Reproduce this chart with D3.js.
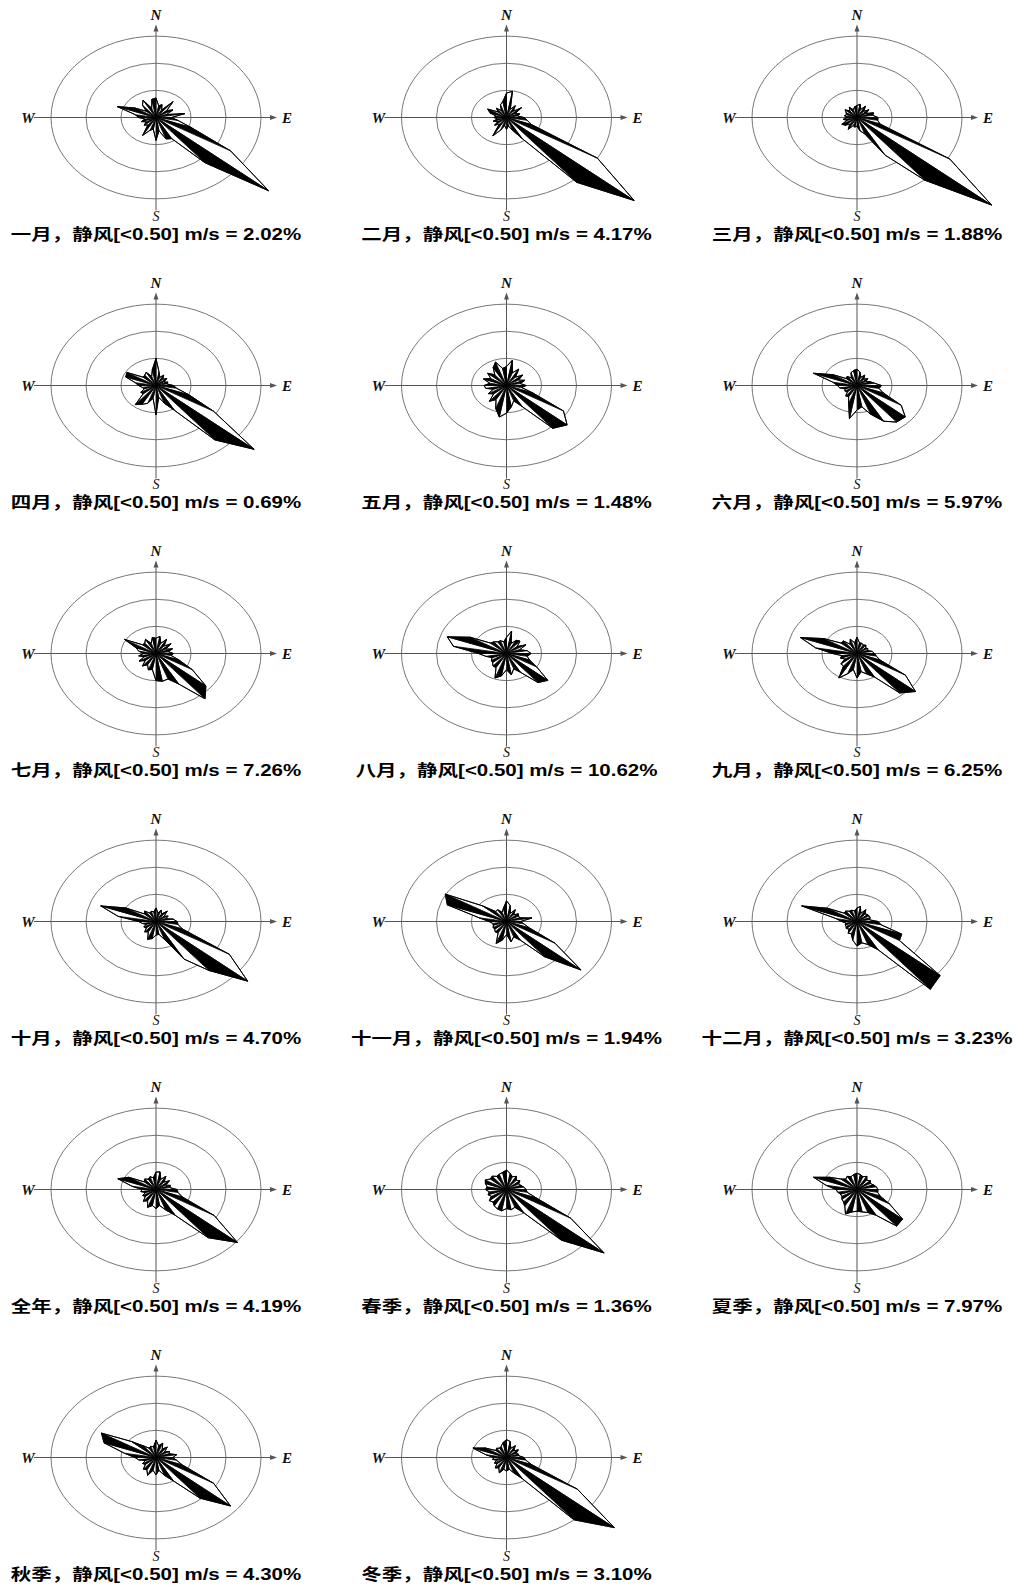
<!DOCTYPE html>
<html lang="zh">
<head>
<meta charset="UTF-8">
<title>风玫瑰图</title>
<style>
  body { margin: 0; background: #fff; }
  .ring { fill: none; stroke: #777; stroke-width: 1px; }
  .axis line { stroke: #555; stroke-width: 1px; }
  .axis path { fill: #555; stroke: none; }
  .dir { font-family: "Liberation Serif", serif; font-style: italic; font-weight: bold; font-size: 15px; fill: #111; }
  .cap { font-family: "Liberation Sans", "Noto Sans CJK SC", sans-serif; font-weight: bold; font-size: 20.5px; fill: #000; }
  .petal { stroke: #000; stroke-width: 0.8px; }
  .outline { fill: none; stroke: #000; stroke-width: 1px; }
</style>
</head>
<body>
<script src="https://cdn.jsdelivr.net/npm/d3@7"></script>
<script>
var width = 1016, height = 1585;

// 36 wind directions, degrees clockwise from north
var bearings = [0, 10, 20, 30, 40, 50, 60, 70, 80, 90, 100, 110, 120, 130, 140, 150, 160, 170,
                180, 190, 200, 210, 220, 230, 240, 250, 260, 270, 280, 290, 300, 310, 320, 330, 340, 350];

var titles = ["一月", "二月", "三月", "四月", "五月", "六月", "七月", "八月", "九月",
              "十月", "十一月", "十二月", "全年", "春季", "夏季", "秋季", "冬季"];
var calms = [2.02, 4.17, 1.88, 0.69, 1.48, 5.97, 7.26, 10.62, 6.25, 4.70, 1.94, 3.23, 4.19, 1.36, 7.97, 4.30, 3.10];

// frequency (%) per direction
var jan = [3.6, 2.2, 2.5, 1.6, 3.8, 2.0, 2.8, 1.6, 4.2, 2.2, 3.2, 5.3, 12.3, 21.0, 10.9, 4.5, 4.2, 2.5,
           4.2, 2.2, 2.5, 3.8, 1.8, 2.2, 1.6, 2.2, 1.6, 2.5, 3.0, 5.9, 3.5, 1.8, 3.0, 3.7, 1.8, 3.4];
var feb = [4.5, 4.9, 1.6, 2.5, 1.5, 2.8, 1.4, 2.0, 1.6, 2.5, 3.0, 3.8, 15.0, 23.8, 15.6, 4.5, 2.5, 1.6,
           2.2, 1.5, 2.5, 3.9, 1.6, 2.2, 1.4, 2.0, 1.3, 1.8, 1.5, 2.5, 3.1, 1.6, 2.2, 1.5, 2.5, 3.0];
var mar = [2.2, 2.5, 1.6, 2.4, 1.5, 2.2, 1.5, 2.5, 2.3, 3.0, 3.0, 3.5, 15.3, 25.1, 15.1, 8.0, 3.2, 2.5,
           1.6, 1.8, 1.6, 2.5, 1.6, 2.2, 2.5, 1.5, 2.0, 1.4, 1.8, 1.6, 1.8, 2.2, 1.6, 2.2, 1.5, 2.0];
var apr = [5.0, 2.5, 1.6, 2.2, 1.5, 2.0, 1.3, 1.8, 1.6, 2.5, 3.0, 5.0, 9.5, 18.3, 13.1, 5.3, 3.5, 2.2,
           5.4, 2.4, 3.5, 4.0, 4.6, 2.4, 2.5, 1.8, 2.0, 2.5, 3.0, 4.6, 4.8, 2.4, 2.5, 2.8, 1.8, 3.0];
var may = [3.5, 4.7, 2.5, 3.5, 2.0, 3.0, 2.0, 2.8, 2.0, 2.8, 2.2, 4.0, 9.4, 11.3, 10.3, 4.5, 3.0, 4.0,
           5.1, 5.9, 4.5, 3.0, 3.8, 2.4, 3.0, 2.0, 3.0, 3.2, 2.4, 3.5, 2.6, 3.5, 2.6, 3.8, 4.6, 3.2];
var jun = [3.0, 2.5, 1.6, 2.2, 1.5, 2.0, 1.5, 2.0, 2.5, 3.5, 3.2, 4.0, 7.3, 9.0, 8.8, 7.6, 5.6, 4.0,
           4.5, 6.2, 3.5, 2.4, 2.5, 1.8, 2.0, 1.8, 2.5, 2.8, 3.5, 6.6, 4.0, 2.0, 2.2, 1.6, 2.5, 2.8];
var jul = [2.8, 3.2, 2.0, 3.0, 1.8, 2.8, 1.6, 2.5, 1.8, 2.5, 2.2, 3.5, 6.0, 9.3, 10.9, 6.5, 5.0, 5.2,
           5.0, 3.0, 3.2, 2.4, 3.0, 2.0, 2.8, 1.8, 2.5, 1.8, 2.5, 3.0, 5.2, 2.5, 2.5, 3.0, 2.0, 3.0];
var aug = [3.0, 4.2, 2.0, 2.8, 3.0, 2.0, 3.2, 2.0, 3.0, 3.5, 3.0, 3.5, 5.0, 7.7, 7.0, 4.0, 3.0, 4.0,
           3.0, 4.2, 4.8, 3.0, 3.0, 2.6, 2.5, 2.2, 3.0, 4.0, 7.7, 9.0, 6.0, 3.0, 2.8, 2.5, 2.5, 2.2];
var sep = [3.0, 2.0, 2.0, 1.8, 2.0, 1.6, 1.8, 1.6, 2.2, 2.5, 2.8, 3.5, 8.0, 10.9, 9.5, 5.0, 4.0, 3.4,
           4.5, 3.0, 4.0, 5.2, 3.0, 3.0, 2.0, 2.5, 2.2, 3.5, 6.0, 8.6, 5.5, 3.0, 3.0, 2.0, 2.8, 2.0];
var oct = [2.5, 1.6, 2.2, 1.6, 2.5, 1.5, 2.0, 1.5, 2.5, 3.0, 3.2, 4.0, 12.1, 17.1, 11.8, 8.0, 3.5, 2.4,
           2.5, 3.2, 3.5, 2.2, 2.5, 1.8, 2.0, 1.5, 2.0, 2.5, 5.5, 8.4, 5.0, 2.2, 2.5, 1.8, 2.0, 1.8];
var nov = [3.8, 3.0, 1.6, 2.5, 1.6, 2.2, 2.0, 2.0, 3.7, 2.0, 2.5, 3.5, 8.0, 13.9, 8.5, 4.0, 3.0, 3.8,
           2.4, 3.5, 4.3, 2.4, 2.5, 2.2, 2.2, 2.0, 2.0, 2.5, 4.0, 9.0, 10.1, 4.5, 2.4, 2.5, 1.8, 2.5];
var dec = [2.5, 2.8, 1.6, 2.5, 1.8, 2.0, 2.0, 2.0, 1.8, 3.0, 3.5, 6.8, 7.0, 15.5, 16.3, 6.0, 4.5, 4.0,
           4.5, 3.5, 2.4, 2.5, 1.8, 2.0, 1.8, 1.8, 1.6, 2.2, 3.0, 8.4, 4.9, 2.4, 2.5, 2.2, 2.2, 2.0];
var year = [3.2, 3.3, 2.0, 2.8, 1.8, 2.5, 1.6, 2.2, 2.0, 3.0, 3.2, 4.0, 9.6, 15.2, 11.6, 5.5, 4.0, 3.0,
            3.5, 3.0, 3.5, 2.4, 2.8, 2.0, 2.2, 1.6, 2.2, 2.0, 3.5, 5.8, 4.5, 2.2, 2.5, 2.2, 2.5, 2.2];
var spring = [3.6, 3.0, 2.5, 2.8, 2.2, 2.5, 2.0, 2.2, 2.5, 2.8, 3.0, 4.5, 10.6, 18.2, 12.2, 5.0, 3.5, 3.8,
              3.5, 4.0, 3.8, 3.5, 3.0, 3.2, 2.5, 2.8, 2.5, 3.0, 2.8, 3.2, 3.5, 3.0, 3.2, 2.8, 3.0, 3.2];
var summer = [3.0, 2.8, 2.5, 2.8, 2.2, 2.5, 2.2, 2.5, 2.8, 3.0, 3.0, 3.5, 5.4, 8.5, 8.8, 5.5, 4.5, 4.2,
              4.0, 4.2, 4.8, 3.5, 3.0, 2.8, 2.5, 2.5, 2.8, 3.0, 4.5, 6.6, 4.5, 3.0, 2.5, 2.8, 2.5, 2.8];
var autumn = [3.2, 2.2, 2.8, 1.8, 2.5, 1.6, 2.2, 2.0, 3.0, 2.4, 3.0, 4.0, 9.5, 13.9, 9.8, 5.0, 3.5, 2.4,
              3.2, 2.4, 3.5, 2.6, 2.8, 2.0, 2.2, 1.6, 2.5, 3.0, 4.6, 7.9, 9.0, 4.6, 2.8, 2.0, 2.2, 2.0];
var winter = [3.3, 3.0, 1.8, 2.5, 1.6, 2.2, 1.6, 1.8, 1.8, 2.5, 2.8, 3.8, 11.7, 20.1, 15.0, 4.5, 3.0, 2.2,
              2.5, 2.2, 3.0, 2.2, 2.5, 1.8, 2.0, 1.5, 2.0, 1.8, 3.0, 5.1, 3.5, 2.0, 2.2, 2.0, 2.2, 2.8];

var roses = [jan, feb, mar, apr, may, jun, jul, aug, sep, oct, nov, dec, year, spring, summer, autumn, winter];
var rings = [5, 10, 15];

// layout
var colX = [156, 506.5, 857];
var rowTop = 117.5, rowStep = 268;
var squash = 0.775;   // the picture is flattened vertically

var r = d3.scaleLinear().domain([0, 15]).range([0, 105]);
var fmt = d3.format(".2f");

var svg = d3.select("body").append("svg")
    .attr("width", width)
    .attr("height", height)
    .style("display", "block");

svg.append("rect").attr("width", width).attr("height", height).attr("fill", "#fff");

function pt(b, v) {
    var a = b * Math.PI / 180;
    return [r(v) * Math.sin(a), -r(v) * Math.cos(a) * squash];
}

roses.forEach(function(vals, i) {
    var cx = colX[i % 3], cy = rowTop + rowStep * Math.floor(i / 3);
    var g = svg.append("g").attr("transform", "translate(" + cx + "," + cy + ")");

    g.selectAll("ellipse")
        .data(rings)
        .enter()
        .append("ellipse")
        .attr("class", "ring")
        .attr("rx", function(d) { return r(d); })
        .attr("ry", function(d) { return r(d) * squash; });

    var ax = g.append("g").attr("class", "axis");
    ax.append("line").attr("x1", -122).attr("x2", 116).attr("y1", 0).attr("y2", 0);
    ax.append("line").attr("x1", 0).attr("x2", 0).attr("y1", 93).attr("y2", -88);
    ax.append("path").attr("d", "M121,0L114,-2.5L114,2.5Z");
    ax.append("path").attr("d", "M0,-93L-2.5,-86L2.5,-86Z");

    // the rose: alternating black / white triangles between neighbouring tips
    var tips = bearings.map(function(b, j) { return pt(b, vals[j]); });
    var tri = bearings.map(function(b, j) {
        return { j: j, pts: [[0, 0], tips[j], tips[(j + 1) % bearings.length]] };
    });
    g.selectAll(".petal")
        .data(tri)
        .enter()
        .append("path")
        .attr("class", "petal")
        .attr("fill", function(d) { return d.j % 2 ? "#000" : "#fff"; })
        .attr("d", function(d) { return "M" + d.pts.join("L") + "Z"; });
    g.append("path")
        .attr("class", "outline")
        .attr("d", "M" + tips.join("L") + "Z");

    g.append("text").attr("class", "dir").attr("x", 0).attr("y", -98).attr("text-anchor", "middle").text("N");
    g.append("text").attr("class", "dir").attr("x", -128).attr("y", 5).attr("text-anchor", "middle").text("W");
    g.append("text").attr("class", "dir").attr("x", 131).attr("y", 5).attr("text-anchor", "middle").text("E");
    g.append("text").attr("class", "dir").attr("x", 0).attr("y", 103.5).attr("text-anchor", "middle")
        .style("font-weight", "normal").style("font-size", "14px").text("S");

    g.append("text")
        .attr("class", "cap")
        .attr("text-anchor", "middle")
        .attr("transform", "translate(0,122.5) scale(1," + squash + ")")
        .text(titles[i] + "，静风[<0.50] m/s = " + fmt(calms[i]) + "%");
});
</script>
</body>
</html>
